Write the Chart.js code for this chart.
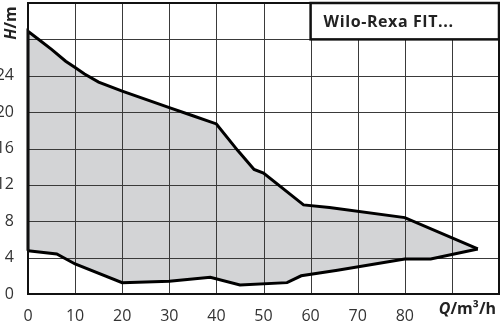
<!DOCTYPE html>
<html>
<head>
<meta charset="utf-8">
<script src="https://cdn.jsdelivr.net/npm/chart.js@4"></script>
<style>
  html, body { margin: 0; padding: 0; background: #fff; }
  #wrap { width: 500px; height: 321px; }
</style>
</head>
<body>
<div id="wrap"><canvas id="pumpChart"></canvas></div>
<script>
// Kennlinienfeld (Q in m³/h, H in m)
const upperQ = [0, 0, 2, 5, 8, 10, 12, 15, 20, 25, 30, 35, 40, 44.5, 48, 50, 58.5, 64, 80, 95.5];
const upperH = [4.75, 28.9, 28.1, 26.9, 25.6, 24.9, 24.2, 23.3, 22.3, 21.4, 20.5, 19.6, 18.7, 15.8, 13.7, 13.3, 9.8, 9.5, 8.4, 4.95];
const lowerQ = [0, 6.1, 10, 20, 30, 38.7, 45, 55, 58, 65.7, 80, 85.5, 95.5];
const lowerH = [4.75, 4.4, 3.3, 1.25, 1.4, 1.85, 1.0, 1.25, 2.0, 2.6, 3.85, 3.85, 4.95];

const xTicks = [0, 10, 20, 30, 40, 50, 60, 70, 80];
const yTicks = [0, 4, 8, 12, 16, 20, 24];
const title = 'Wilo-Rexa FIT...';

const toPoints = (qs, hs) => qs.map((q, i) => ({ x: q, y: hs[i] }));

// Gitter über der Fläche, unter den Kurven
const gridLines = {
    id: 'gridLines',
    beforeDatasetsDraw(chart) {
        const { ctx, chartArea: a, scales: { x, y } } = chart;
        ctx.save();
        ctx.strokeStyle = '#3a3a3a';
        ctx.lineWidth = 1;
        ctx.beginPath();
        x.ticks.forEach(t => {
            const px = Math.round(x.getPixelForValue(t.value)) + 0.5;
            ctx.moveTo(px, a.top);
            ctx.lineTo(px, a.bottom);
        });
        y.ticks.forEach(t => {
            const py = Math.round(y.getPixelForValue(t.value)) + 0.5;
            ctx.moveTo(a.left, py);
            ctx.lineTo(a.right, py);
        });
        ctx.stroke();
        ctx.restore();
    }
};

// Rahmen, Titelbox und Achsentitel
const decor = {
    id: 'decor',
    afterDraw(chart) {
        const { ctx, chartArea: a, scales: { x, y } } = chart;
        ctx.save();
        ctx.strokeStyle = '#111';
        ctx.lineWidth = 2;
        ctx.strokeRect(a.left, a.top, a.right - a.left, a.bottom - a.top);

        // Titelbox oben rechts
        const bx = x.getPixelForValue(60), by = y.getPixelForValue(32);
        const bw = x.getPixelForValue(100) - bx, bh = y.getPixelForValue(28) - by;
        ctx.fillStyle = '#fff';
        ctx.fillRect(bx, by, bw, bh);
        ctx.lineWidth = 2.5;
        ctx.strokeRect(bx, by, bw, bh);
        ctx.fillStyle = '#222';
        ctx.font = 'bold 16px "Open Sans"';
        ctx.letterSpacing = '0.6px';
        ctx.textBaseline = 'middle';
        ctx.textAlign = 'left';
        ctx.fillText(title, bx + 13, by + bh / 2 + 1);
        ctx.letterSpacing = '0px';

        // Q/m³/h
        const ty = a.bottom + 15;
        ctx.font = 'bold 16px "Open Sans"';
        const rest = '/m³/h';
        const rw = ctx.measureText(rest).width;
        ctx.textAlign = 'right';
        ctx.fillText(rest, 496, ty);
        ctx.font = 'bold italic 16px "Open Sans"';
        ctx.fillText('Q', 496 - rw, ty);

        // H/m gedreht
        ctx.translate(11, 23);
        ctx.rotate(-Math.PI / 2);
        ctx.textAlign = 'left';
        ctx.font = 'bold italic 16px "Open Sans"';
        const hw = ctx.measureText('H').width;
        ctx.font = 'bold 16px "Open Sans"';
        const mw = ctx.measureText('/m').width;
        const start = -(hw + mw) / 2;
        ctx.font = 'bold italic 16px "Open Sans"';
        ctx.fillText('H', start, 0);
        ctx.font = 'bold 16px "Open Sans"';
        ctx.fillText('/m', start + hw, 0);
        ctx.restore();
    }
};

const ctx = document.getElementById('pumpChart').getContext('2d');
new Chart(ctx, {
    type: 'line',
    data: {
        datasets: [{
            data: toPoints(upperQ, upperH),
            borderColor: '#000',
            borderWidth: 3,
            backgroundColor: '#d3d4d6',
            fill: '+1',
            pointRadius: 0,
            tension: 0,
            clip: 5
        }, {
            data: toPoints(lowerQ, lowerH),
            borderColor: '#000',
            borderWidth: 3,
            fill: false,
            pointRadius: 0,
            tension: 0,
            clip: 5
        }]
    },
    options: {
        responsive: true,
        maintainAspectRatio: false,
        animation: false,
        layout: { padding: { top: 3, right: 1, left: 0, bottom: 0 } },
        plugins: {
            legend: { display: false },
            tooltip: { enabled: false },
            filler: { drawTime: 'beforeDraw' }
        },
        scales: {
            x: {
                type: 'linear',
                min: 0,
                max: 100,
                afterFit: (s) => { s.height = 27; s.paddingLeft = 0; s.paddingRight = 0; },
                grid: { display: false },
                border: { display: false },
                ticks: {
                    stepSize: 10,
                    padding: 5,
                    color: '#333',
                    font: { family: 'Open Sans', size: 16 },
                    callback: (v) => xTicks.includes(v) ? String(v) : ''
                }
            },
            y: {
                type: 'linear',
                min: 0,
                max: 32,
                afterFit: (s) => { s.width = 28; s.paddingTop = 0; s.paddingBottom = 0; },
                grid: { display: false },
                border: { display: false },
                ticks: {
                    stepSize: 4,
                    padding: 6,
                    color: '#333',
                    font: { family: 'Open Sans', size: 16 },
                    callback: (v) => yTicks.includes(v) ? String(v) : ''
                }
            }
        }
    },
    plugins: [gridLines, decor]
});
</script>
</body>
</html>
